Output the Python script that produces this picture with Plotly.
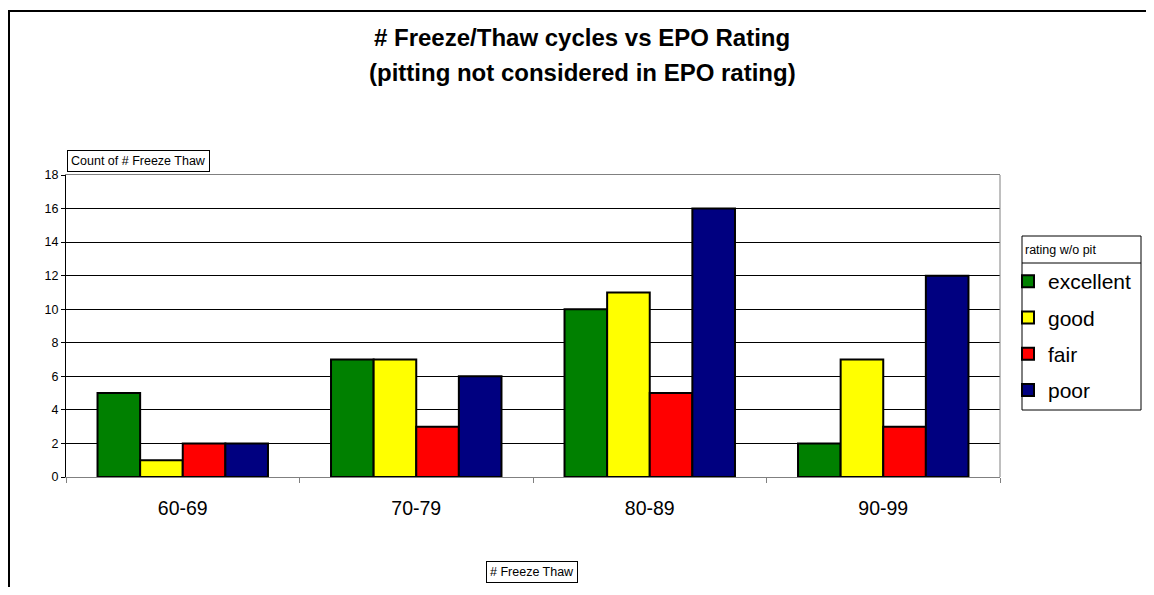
import plotly.graph_objects as go

# The page body has an 8px margin, so the figure is sized to fit inside it
OFF = 8
W, H = 1154 - 2 * OFF, 595 - 2 * OFF

categories = ["60-69", "70-79", "80-89", "90-99"]
series_names = ["excellent", "good", "fair", "poor"]
excellent = [5, 7, 10, 2]
good = [1, 7, 11, 7]
fair = [2, 3, 5, 3]
poor = [2, 6, 16, 12]
colors = ["#008000", "#FFFF00", "#FF0000", "#000080"]

FONT = "Arial, 'Liberation Sans', sans-serif"

def px_x(x):
    return (x - OFF) / W

def px_y(y):
    return 1 - (y - OFF) / H

fig = go.Figure()
for i, (name, vals) in enumerate(zip(series_names, [excellent, good, fair, poor])):
    fig.add_trace(go.Bar(
        x=categories, y=vals, name=name, legendgroup=name,
        marker=dict(color=colors[i], line=dict(color="black", width=2)),
    ))

fig.update_layout(
    width=W, height=H,
    margin=dict(l=0, r=0, t=0, b=0, autoexpand=False),
    paper_bgcolor="white", plot_bgcolor="white",
    barmode="group", bargap=0.27, bargroupgap=0,
    font=dict(family=FONT, color="black"),
    showlegend=True,
    legend=dict(
        x=px_x(1008), y=px_y(261), xanchor="left", yanchor="top",
        borderwidth=0, bgcolor="rgba(0,0,0,0)",
        font=dict(size=21, family=FONT),
        tracegroupgap=6,
    ),
    xaxis=dict(
        domain=[px_x(66), px_x(1000)],
        showline=True, linecolor="#808080", linewidth=1, mirror=True,
        ticks="outside", tickson="boundaries", ticklen=5, tickcolor="#808080",
        tickfont=dict(size=19.5, family=FONT),
        ticklabelstandoff=14,
        showgrid=False,
    ),
    yaxis=dict(
        domain=[px_y(477), px_y(175)],
        range=[0, 18], dtick=2,
        showline=True, linecolor="black", linewidth=1,
        ticks="outside", ticklen=4, tickcolor="black",
        tickfont=dict(size=12.5, family=FONT),
        showgrid=True, gridcolor="black", gridwidth=1,
        zeroline=False,
    ),
)

# Title (two lines)
fig.add_annotation(text="<b># Freeze/Thaw cycles vs EPO Rating</b>", xref="paper", yref="paper",
                   x=px_x(582), y=px_y(38), showarrow=False, font=dict(size=24, family=FONT),
                   xanchor="center", yanchor="middle")
fig.add_annotation(text="<b>(pitting not considered in EPO rating)</b>", xref="paper", yref="paper",
                   x=px_x(582), y=px_y(72), showarrow=False, font=dict(size=24, family=FONT),
                   xanchor="center", yanchor="middle")

# Axis title boxes
fig.add_annotation(text="Count of # Freeze Thaw", xref="paper", yref="paper",
                   x=px_x(67), y=px_y(160.5), xanchor="left", yanchor="middle", showarrow=False,
                   font=dict(size=12.5, family=FONT), bordercolor="black", borderwidth=1, borderpad=3,
                   bgcolor="white")
fig.add_annotation(text="# Freeze Thaw", xref="paper", yref="paper",
                   x=px_x(532), y=px_y(572), xanchor="center", yanchor="middle", showarrow=False,
                   font=dict(size=12.5, family=FONT), bordercolor="black", borderwidth=1, borderpad=3,
                   bgcolor="white")

# Legend frame and title
fig.add_shape(type="rect", xref="paper", yref="paper",
              x0=px_x(1022), x1=px_x(1141), y0=px_y(410), y1=px_y(236),
              line=dict(color="black", width=1), fillcolor="white", layer="below")
fig.add_shape(type="line", xref="paper", yref="paper",
              x0=px_x(1022), x1=px_x(1141), y0=px_y(263), y1=px_y(263),
              line=dict(color="black", width=1))
fig.add_annotation(text="rating w/o pit", xref="paper", yref="paper",
                   x=px_x(1023), y=px_y(250), xanchor="left", yanchor="middle", showarrow=False,
                   font=dict(size=12.5, family=FONT))

# Outer frame and right plot border
fig.add_shape(type="rect", xref="paper", yref="paper",
              x0=px_x(9), y0=-0.05, x1=1.05, y1=px_y(11),
              line=dict(color="black", width=2))
fig.add_shape(type="line", xref="paper", yref="paper",
              x0=px_x(1000), x1=px_x(1000), y0=px_y(477), y1=px_y(175),
              line=dict(color="#808080", width=1))

fig.write_html("out.html")
